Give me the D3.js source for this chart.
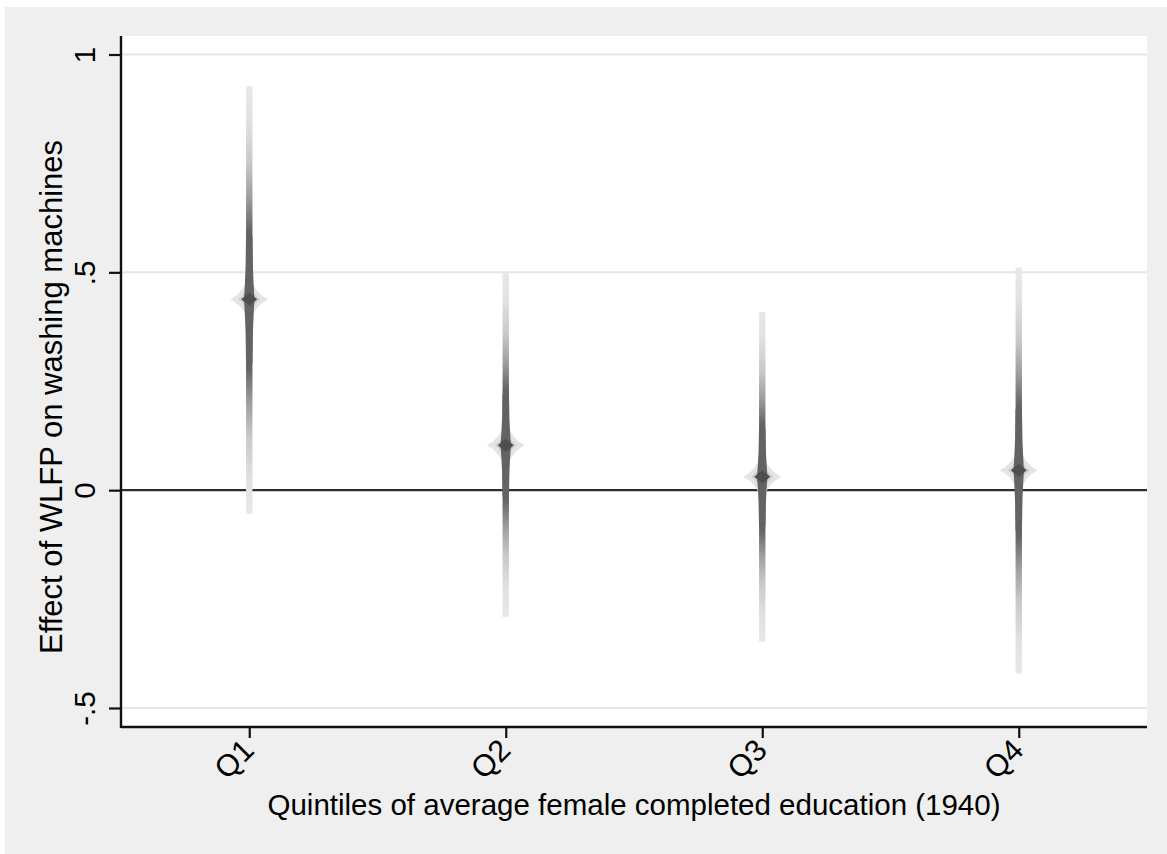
<!DOCTYPE html>
<html>
<head>
<meta charset="utf-8">
<script src="https://cdn.jsdelivr.net/npm/d3@7"></script>
<style>
  body { margin: 0; background: #fff; }
  text { font-family: "Liberation Sans", Arial, Helvetica, sans-serif; fill: #000; }
</style>
</head>
<body>
<svg id="chart" width="1167" height="854"></svg>
<script>
// point estimates and outer CI bounds
var quintiles = ["Q1", "Q2", "Q3", "Q4"];
var estimates = [0.438, 0.103, 0.031, 0.046];
var ciLower = [-0.054, -0.291, -0.348, -0.421];
var ciUpper = [0.927, 0.498, 0.409, 0.511];
var yTicks = [-0.5, 0, 0.5, 1];
var yTickLabels = ["-.5", "0", ".5", "1"];
var xTitle = "Quintiles of average female completed education (1940)";
var yTitle = "Effect of WLFP on washing machines";

var svg = d3.select("#chart");
var plotLeft = 121, plotRight = 1147, plotTop = 36, plotBottom = 727;
var fontSize = 29.5;

// outer graph region
svg.append("rect")
  .attr("x", 5).attr("y", 7)
  .attr("width", 1167 - 5).attr("height", 854 - 7)
  .attr("fill", "#efefef");

// plot region
svg.append("rect")
  .attr("x", plotLeft).attr("y", plotTop)
  .attr("width", plotRight - plotLeft).attr("height", plotBottom - plotTop)
  .attr("fill", "#fff");

var x = d3.scalePoint()
  .domain(quintiles)
  .range([plotLeft, plotRight])
  .padding(0.5);

var y = d3.scaleLinear()
  .domain([-0.5, 1])
  .range([708, 54.5]);

// gridlines
svg.append("g").selectAll("line")
  .data(yTicks.filter(function(d) { return d !== 0; }))
  .enter().append("line")
  .attr("x1", plotLeft).attr("x2", plotRight)
  .attr("y1", function(d) { return y(d); })
  .attr("y2", function(d) { return y(d); })
  .attr("stroke", "#e6e6e6")
  .attr("stroke-width", 2);

// zero line
svg.append("line")
  .attr("x1", plotLeft).attr("x2", plotRight)
  .attr("y1", y(0)).attr("y2", y(0))
  .attr("stroke", "#2e2e2e")
  .attr("stroke-width", 2.4);

// gradient for the stacked confidence intervals
var grad = svg.append("defs").append("linearGradient")
  .attr("id", "ciGrad")
  .attr("x1", 0).attr("y1", 0).attr("x2", 0).attr("y2", 1);
var stops = [
  [0, "#e8e8e8"], [0.08, "#e1e1e1"], [0.18, "#c8c8c8"], [0.26, "#9e9e9e"],
  [0.31, "#7a7a7a"], [0.34, "#646464"], [0.66, "#646464"], [0.69, "#7a7a7a"],
  [0.74, "#9e9e9e"], [0.82, "#c8c8c8"], [0.92, "#e1e1e1"], [1, "#e8e8e8"]
];
grad.selectAll("stop").data(stops).enter().append("stop")
  .attr("offset", function(d) { return d[0]; })
  .attr("stop-color", function(d) { return d[1]; });

var data = quintiles.map(function(q, i) {
  return { q: q, est: estimates[i], lo: ciLower[i], hi: ciUpper[i] };
});

// concave four point star used as a halo
function star(rx, ry, c) {
  return "M" + (-rx) + ",0" +
    "Q" + (-c) + "," + (-c) + " 0," + (-ry) +
    "Q" + c + "," + (-c) + " " + rx + ",0" +
    "Q" + c + "," + c + " 0," + ry +
    "Q" + (-c) + "," + c + " " + (-rx) + ",0Z";
}

var marks = svg.append("g").selectAll("g")
  .data(data)
  .enter().append("g")
  .attr("transform", function(d) { return "translate(" + x(d.q) + ",0)"; });

marks.append("rect")
  .attr("x", -3.2)
  .attr("width", 6.4)
  .attr("y", function(d) { return y(d.hi); })
  .attr("height", function(d) { return y(d.lo) - y(d.hi); })
  .attr("fill", "url(#ciGrad)");

marks.append("path")
  .attr("transform", function(d) { return "translate(0," + y(d.est) + ")"; })
  .attr("d", star(19, 24, 6))
  .attr("fill", "#e4e4e4");

marks.append("path")
  .attr("transform", function(d) { return "translate(0," + y(d.est) + ")"; })
  .attr("d", star(11, 17, 4))
  .attr("fill", "#cdcdcd");

// dark spindle around the estimate
var profile = [[0.3, 3.2], [0.15, 3.7], [0.07, 4.4], [0, 5.2]];
marks.append("path")
  .attr("d", function(d) {
    var half = (d.hi - d.lo) / 2;
    var pts = [];
    profile.forEach(function(p) { pts.push([-p[1], y(d.est + p[0] * half)]); });
    profile.slice().reverse().forEach(function(p) { pts.push([-p[1], y(d.est - p[0] * half)]); });
    profile.forEach(function(p) { pts.push([p[1], y(d.est - p[0] * half)]); });
    profile.slice().reverse().forEach(function(p) { pts.push([p[1], y(d.est + p[0] * half)]); });
    return d3.line().curve(d3.curveLinearClosed)(pts);
  })
  .attr("fill", "#636363");

marks.append("path")
  .attr("transform", function(d) { return "translate(0," + y(d.est) + ")"; })
  .attr("d", "M-8,0L0,-6.5L8,0L0,6.5Z")
  .attr("fill", "#4e4e4e");

// y axis
var yAxis = svg.append("g")
  .attr("transform", "translate(" + plotLeft + ",0)")
  .call(d3.axisLeft(y).tickValues(yTicks).tickSize(12)
    .tickFormat(function(d, i) { return yTickLabels[i]; }));
yAxis.select(".domain").remove();
yAxis.selectAll(".tick line").attr("stroke", "#111").attr("stroke-width", 2.2);
yAxis.selectAll(".tick text")
  .attr("transform", "rotate(-90)")
  .attr("x", 0).attr("y", -26).attr("dy", 0)
  .attr("text-anchor", "middle")
  .style("font-size", fontSize + "px")
  .style("font-family", "Liberation Sans, Arial, sans-serif")
  .attr("fill", "#000");

// x axis
var xAxis = svg.append("g")
  .attr("transform", "translate(0," + plotBottom + ")")
  .call(d3.axisBottom(x).tickSize(11));
xAxis.select(".domain").remove();
xAxis.selectAll(".tick line").attr("stroke", "#111").attr("stroke-width", 2.2);
xAxis.selectAll(".tick text")
  .attr("transform", "translate(6,25) rotate(-45)")
  .attr("x", 0).attr("y", 0).attr("dy", 0)
  .attr("text-anchor", "end")
  .style("font-size", "30.5px")
  .style("font-family", "Liberation Sans, Arial, sans-serif")
  .attr("fill", "#000");

// axis lines
svg.append("line")
  .attr("x1", plotLeft).attr("x2", plotLeft)
  .attr("y1", plotTop).attr("y2", plotBottom + 1)
  .attr("stroke", "#111").attr("stroke-width", 2.4);
svg.append("line")
  .attr("x1", plotLeft).attr("x2", plotRight)
  .attr("y1", plotBottom).attr("y2", plotBottom)
  .attr("stroke", "#111").attr("stroke-width", 2.4);

// titles
svg.append("text")
  .attr("x", (plotLeft + plotRight) / 2)
  .attr("y", 815)
  .attr("text-anchor", "middle")
  .style("font-size", fontSize + "px")
  .text(xTitle);

svg.append("text")
  .attr("transform", "translate(62,397) rotate(-90)")
  .attr("text-anchor", "middle")
  .style("font-size", "31px")
  .text(yTitle);
</script>
</body>
</html>
